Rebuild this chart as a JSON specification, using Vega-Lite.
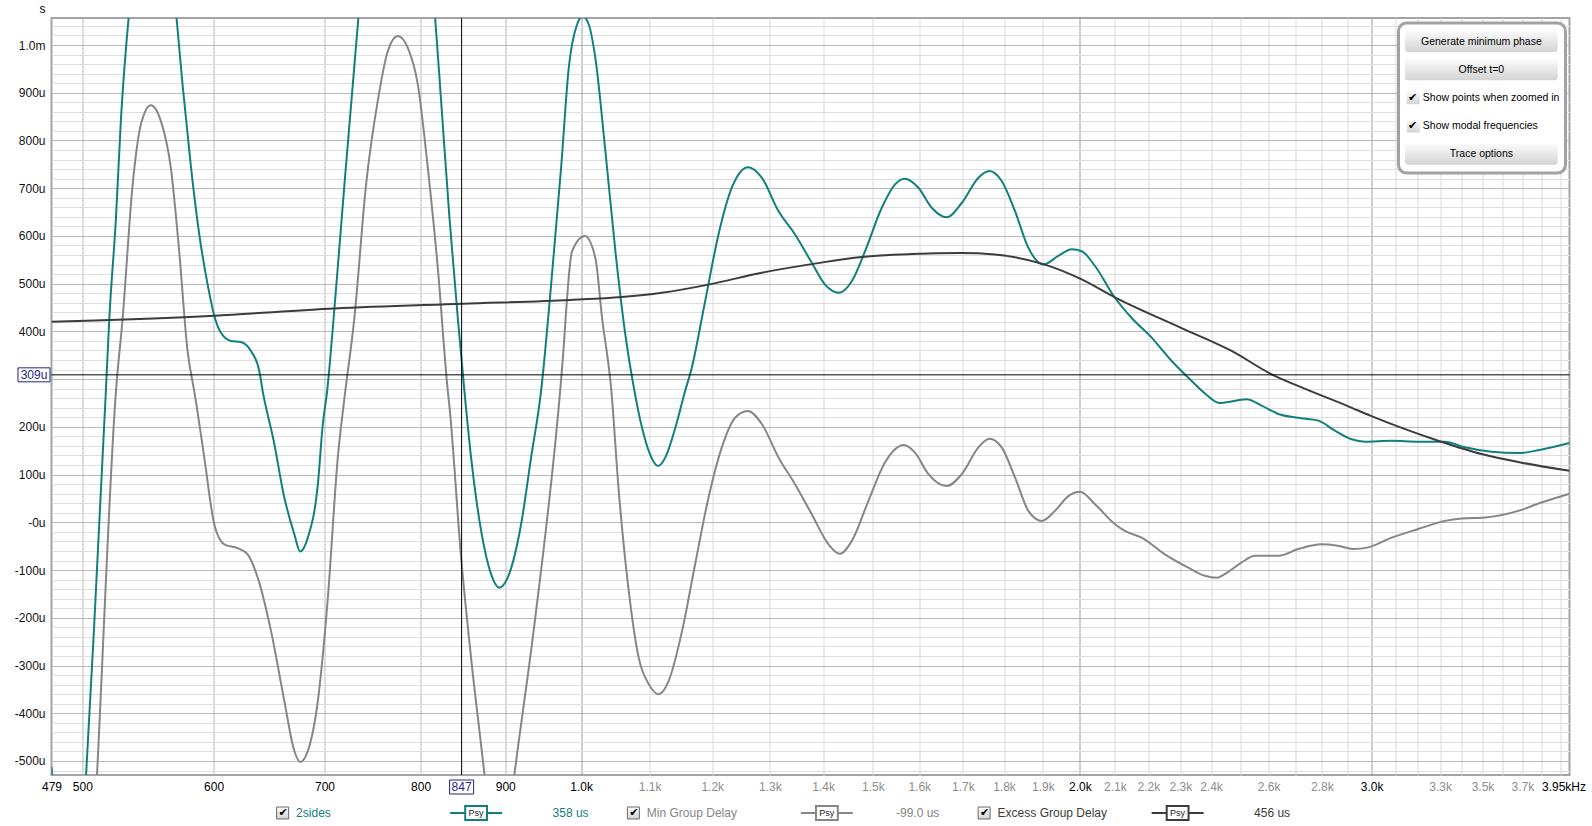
{
  "$schema": "https://vega.github.io/schema/vega-lite/v6.json",
  "background": "white",
  "autosize": {"type": "pad"},
  "padding": {"left": 12.5, "top": 1, "right": 4, "bottom": 8},
  "spacing": 4,
  "config": {
    "font": "Liberation Sans",
    "view": {"stroke": "#a4a4a4", "strokeWidth": 2},
    "axis": {"labelFont": "Liberation Sans", "labelFontSize": 12, "ticks": false, "domain": false, "labelOverlap": false, "labelFlush": false, "labelBound": false, "tickCount": 500},
    "legend": {"strokeWidth": 3},
    "text": {"font": "Liberation Sans"}
  },
  "resolve": {"scale": {"shape": "independent"}, "legend": {"shape": "independent"}},
  "datasets": {
    "traces": [
      {"series":"2sides","f":479,"gd":-512},{"series":"2sides","f":480,"gd":-560},{"series":"2sides","f":484.7,"gd":-780},{"series":"2sides","f":490.8,"gd":-880},{"series":"2sides","f":497,"gd":-780},{"series":"2sides","f":502.6,"gd":-528},{"series":"2sides","f":508.3,"gd":-214},{"series":"2sides","f":516.6,"gd":275},{"series":"2sides","f":519.1,"gd":428},{"series":"2sides","f":523.9,"gd":638},{"series":"2sides","f":527.6,"gd":848},{"series":"2sides","f":533.2,"gd":1057},{"series":"2sides","f":536.2,"gd":1140},{"series":"2sides","f":542.4,"gd":1261},{"series":"2sides","f":549.9,"gd":1302},{"series":"2sides","f":557.6,"gd":1269},{"series":"2sides","f":565.4,"gd":1173},{"series":"2sides","f":569.9,"gd":1057},{"series":"2sides","f":574.7,"gd":917},{"series":"2sides","f":581.5,"gd":743},{"series":"2sides","f":588.2,"gd":603},{"series":"2sides","f":595.1,"gd":498},{"series":"2sides","f":600.6,"gd":433},{"series":"2sides","f":606.2,"gd":397},{"series":"2sides","f":614.7,"gd":380},{"series":"2sides","f":623.3,"gd":378},{"series":"2sides","f":632,"gd":359},{"series":"2sides","f":639.4,"gd":317},{"series":"2sides","f":642.4,"gd":275},{"series":"2sides","f":652.3,"gd":171},{"series":"2sides","f":662,"gd":52},{"series":"2sides","f":671.3,"gd":-25},{"series":"2sides","f":676.7,"gd":-61},{"series":"2sides","f":684,"gd":-32},{"series":"2sides","f":693.6,"gd":80},{"series":"2sides","f":698.4,"gd":206},{"series":"2sides","f":702.6,"gd":275},{"series":"2sides","f":709.8,"gd":449},{"series":"2sides","f":719.7,"gd":708},{"series":"2sides","f":728.1,"gd":917},{"series":"2sides","f":733.8,"gd":1057},{"series":"2sides","f":741.7,"gd":1230},{"series":"2sides","f":753.8,"gd":1400},{"series":"2sides","f":764.7,"gd":1510},{"series":"2sides","f":775.4,"gd":1545},{"series":"2sides","f":786.2,"gd":1510},{"series":"2sides","f":797.3,"gd":1400},{"series":"2sides","f":808.5,"gd":1220},{"series":"2sides","f":816.4,"gd":1057},{"series":"2sides","f":823.2,"gd":883},{"series":"2sides","f":832.8,"gd":638},{"series":"2sides","f":842.5,"gd":428},{"series":"2sides","f":850.3,"gd":275},{"series":"2sides","f":858.2,"gd":136},{"series":"2sides","f":870.3,"gd":-18},{"series":"2sides","f":882.5,"gd":-109},{"series":"2sides","f":892.6,"gd":-137},{"series":"2sides","f":903,"gd":-116},{"series":"2sides","f":920,"gd":-4},{"series":"2sides","f":932.9,"gd":136},{"series":"2sides","f":945.9,"gd":275},{"series":"2sides","f":959.2,"gd":498},{"series":"2sides","f":972.6,"gd":743},{"series":"2sides","f":983,"gd":952},{"series":"2sides","f":994.4,"gd":1043},{"series":"2sides","f":1002.3,"gd":1060},{"series":"2sides","f":1010.7,"gd":1043},{"series":"2sides","f":1020,"gd":973},{"series":"2sides","f":1034.3,"gd":778},{"series":"2sides","f":1048.8,"gd":568},{"series":"2sides","f":1063.4,"gd":393},{"series":"2sides","f":1077,"gd":275},{"series":"2sides","f":1088.4,"gd":198},{"series":"2sides","f":1100.4,"gd":143},{"series":"2sides","f":1112.9,"gd":118},{"series":"2sides","f":1124.2,"gd":136},{"series":"2sides","f":1139.9,"gd":198},{"series":"2sides","f":1155.5,"gd":275},{"series":"2sides","f":1166.3,"gd":324},{"series":"2sides","f":1188.1,"gd":463},{"series":"2sides","f":1210.4,"gd":603},{"series":"2sides","f":1233,"gd":701},{"series":"2sides","f":1261.6,"gd":744},{"series":"2sides","f":1285.5,"gd":722},{"series":"2sides","f":1315.6,"gd":652},{"series":"2sides","f":1346.3,"gd":603},{"series":"2sides","f":1377.9,"gd":544},{"series":"2sides","f":1403.6,"gd":498},{"series":"2sides","f":1431.2,"gd":481},{"series":"2sides","f":1456.7,"gd":505},{"series":"2sides","f":1483.9,"gd":568},{"series":"2sides","f":1518.7,"gd":659},{"series":"2sides","f":1547,"gd":708},{"series":"2sides","f":1567.7,"gd":720},{"series":"2sides","f":1598.1,"gd":701},{"series":"2sides","f":1627.9,"gd":659},{"series":"2sides","f":1662.2,"gd":639},{"series":"2sides","f":1697.3,"gd":669},{"series":"2sides","f":1737.1,"gd":722},{"series":"2sides","f":1763.8,"gd":736},{"series":"2sides","f":1794.2,"gd":715},{"series":"2sides","f":1827.7,"gd":652},{"series":"2sides","f":1862,"gd":575},{"series":"2sides","f":1901.3,"gd":540},{"series":"2sides","f":1940.9,"gd":558},{"series":"2sides","f":1977.6,"gd":572},{"series":"2sides","f":2005.2,"gd":568},{"series":"2sides","f":2042.6,"gd":537},{"series":"2sides","f":2098.4,"gd":472},{"series":"2sides","f":2149.4,"gd":428},{"series":"2sides","f":2210,"gd":387},{"series":"2sides","f":2272.3,"gd":338},{"series":"2sides","f":2325.6,"gd":303},{"series":"2sides","f":2379.9,"gd":270},{"series":"2sides","f":2428,"gd":250},{"series":"2sides","f":2447,"gd":251},{"series":"2sides","f":2521.2,"gd":258},{"series":"2sides","f":2576.7,"gd":244},{"series":"2sides","f":2635.4,"gd":227},{"series":"2sides","f":2709.6,"gd":219},{"series":"2sides","f":2786,"gd":213},{"series":"2sides","f":2851,"gd":192},{"series":"2sides","f":2917.9,"gd":174},{"series":"2sides","f":2972.3,"gd":169},{"series":"2sides","f":3084.7,"gd":171},{"series":"2sides","f":3201.2,"gd":169},{"series":"2sides","f":3321.9,"gd":169},{"series":"2sides","f":3411,"gd":158},{"series":"2sides","f":3544.5,"gd":148},{"series":"2sides","f":3678.5,"gd":145},{"series":"2sides","f":3782.1,"gd":151},{"series":"2sides","f":3950,"gd":166},
      {"series":"Min Group Delay","f":479,"gd":-932},{"series":"Min Group Delay","f":480,"gd":-980},{"series":"Min Group Delay","f":484.7,"gd":-1200},{"series":"Min Group Delay","f":490.8,"gd":-1300},{"series":"Min Group Delay","f":497,"gd":-1200},{"series":"Min Group Delay","f":502.6,"gd":-960},{"series":"Min Group Delay","f":506.7,"gd":-740},{"series":"Min Group Delay","f":510.3,"gd":-528},{"series":"Min Group Delay","f":523.9,"gd":275},{"series":"Min Group Delay","f":528.8,"gd":428},{"series":"Min Group Delay","f":536.2,"gd":708},{"series":"Min Group Delay","f":542.4,"gd":834},{"series":"Min Group Delay","f":549.9,"gd":874},{"series":"Min Group Delay","f":557.6,"gd":841},{"series":"Min Group Delay","f":565.4,"gd":743},{"series":"Min Group Delay","f":572,"gd":568},{"series":"Min Group Delay","f":578.7,"gd":359},{"series":"Min Group Delay","f":584.1,"gd":275},{"series":"Min Group Delay","f":586.1,"gd":243},{"series":"Min Group Delay","f":592.3,"gd":136},{"series":"Min Group Delay","f":600.6,"gd":-4},{"series":"Min Group Delay","f":609,"gd":-46},{"series":"Min Group Delay","f":620.5,"gd":-54},{"series":"Min Group Delay","f":629.1,"gd":-67},{"series":"Min Group Delay","f":638,"gd":-116},{"series":"Min Group Delay","f":649.9,"gd":-228},{"series":"Min Group Delay","f":662,"gd":-374},{"series":"Min Group Delay","f":671.3,"gd":-479},{"series":"Min Group Delay","f":676.9,"gd":-502},{"series":"Min Group Delay","f":684,"gd":-479},{"series":"Min Group Delay","f":693.6,"gd":-374},{"series":"Min Group Delay","f":703.3,"gd":-158},{"series":"Min Group Delay","f":713.1,"gd":136},{"series":"Min Group Delay","f":719.7,"gd":260},{"series":"Min Group Delay","f":729.7,"gd":428},{"series":"Min Group Delay","f":741.7,"gd":708},{"series":"Min Group Delay","f":753.8,"gd":883},{"series":"Min Group Delay","f":764.4,"gd":987},{"series":"Min Group Delay","f":775.1,"gd":1019},{"series":"Min Group Delay","f":786,"gd":994},{"series":"Min Group Delay","f":797,"gd":917},{"series":"Min Group Delay","f":808.1,"gd":743},{"series":"Min Group Delay","f":819.4,"gd":533},{"series":"Min Group Delay","f":830.9,"gd":275},{"series":"Min Group Delay","f":832.8,"gd":243},{"series":"Min Group Delay","f":846.4,"gd":-74},{"series":"Min Group Delay","f":858.2,"gd":-284},{"series":"Min Group Delay","f":874.3,"gd":-528},{"series":"Min Group Delay","f":881.3,"gd":-640},{"series":"Min Group Delay","f":892.4,"gd":-700},{"series":"Min Group Delay","f":902.3,"gd":-650},{"series":"Min Group Delay","f":911.5,"gd":-528},{"series":"Min Group Delay","f":937.2,"gd":-214},{"series":"Min Group Delay","f":971.3,"gd":275},{"series":"Min Group Delay","f":973.6,"gd":317},{"series":"Min Group Delay","f":987.5,"gd":568},{"series":"Min Group Delay","f":1005.1,"gd":600},{"series":"Min Group Delay","f":1020,"gd":554},{"series":"Min Group Delay","f":1029.6,"gd":428},{"series":"Min Group Delay","f":1043,"gd":275},{"series":"Min Group Delay","f":1053.7,"gd":66},{"series":"Min Group Delay","f":1068.5,"gd":-144},{"series":"Min Group Delay","f":1083.4,"gd":-284},{"series":"Min Group Delay","f":1098.6,"gd":-339},{"series":"Min Group Delay","f":1113.7,"gd":-360},{"series":"Min Group Delay","f":1129.5,"gd":-332},{"series":"Min Group Delay","f":1150.6,"gd":-228},{"series":"Min Group Delay","f":1171.7,"gd":-88},{"series":"Min Group Delay","f":1193.7,"gd":52},{"series":"Min Group Delay","f":1216,"gd":157},{"series":"Min Group Delay","f":1238.7,"gd":219},{"series":"Min Group Delay","f":1260.7,"gd":233},{"series":"Min Group Delay","f":1285.5,"gd":206},{"series":"Min Group Delay","f":1315.6,"gd":136},{"series":"Min Group Delay","f":1346.3,"gd":80},{"series":"Min Group Delay","f":1377.9,"gd":17},{"series":"Min Group Delay","f":1410.3,"gd":-46},{"series":"Min Group Delay","f":1432.6,"gd":-66},{"series":"Min Group Delay","f":1456.7,"gd":-39},{"series":"Min Group Delay","f":1490.9,"gd":45},{"series":"Min Group Delay","f":1523.7,"gd":122},{"series":"Min Group Delay","f":1547,"gd":153},{"series":"Min Group Delay","f":1565.2,"gd":162},{"series":"Min Group Delay","f":1590.6,"gd":146},{"series":"Min Group Delay","f":1620.5,"gd":101},{"series":"Min Group Delay","f":1662.2,"gd":76},{"series":"Min Group Delay","f":1697.3,"gd":101},{"series":"Min Group Delay","f":1737.1,"gd":157},{"series":"Min Group Delay","f":1763.8,"gd":175},{"series":"Min Group Delay","f":1794.2,"gd":157},{"series":"Min Group Delay","f":1827.7,"gd":94},{"series":"Min Group Delay","f":1862,"gd":24},{"series":"Min Group Delay","f":1896.8,"gd":3},{"series":"Min Group Delay","f":1932.1,"gd":24},{"series":"Min Group Delay","f":1968.5,"gd":55},{"series":"Min Group Delay","f":2000.5,"gd":64},{"series":"Min Group Delay","f":2042.6,"gd":38},{"series":"Min Group Delay","f":2100.1,"gd":-4},{"series":"Min Group Delay","f":2129.5,"gd":-18},{"series":"Min Group Delay","f":2179.5,"gd":-32},{"series":"Min Group Delay","f":2251.2,"gd":-67},{"series":"Min Group Delay","f":2325.6,"gd":-95},{"series":"Min Group Delay","f":2379.9,"gd":-112},{"series":"Min Group Delay","f":2418.9,"gd":-116},{"series":"Min Group Delay","f":2455.4,"gd":-105},{"series":"Min Group Delay","f":2504.4,"gd":-84},{"series":"Min Group Delay","f":2551.1,"gd":-70},{"series":"Min Group Delay","f":2635.4,"gd":-70},{"series":"Min Group Delay","f":2709.6,"gd":-56},{"series":"Min Group Delay","f":2798.8,"gd":-46},{"series":"Min Group Delay","f":2860.7,"gd":-49},{"series":"Min Group Delay","f":2927.5,"gd":-56},{"series":"Min Group Delay","f":2982.3,"gd":-53},{"series":"Min Group Delay","f":3084.7,"gd":-32},{"series":"Min Group Delay","f":3201.2,"gd":-14},{"series":"Min Group Delay","f":3321.9,"gd":3},{"series":"Min Group Delay","f":3399.8,"gd":8},{"series":"Min Group Delay","f":3511.7,"gd":10},{"series":"Min Group Delay","f":3678.5,"gd":24},{"series":"Min Group Delay","f":3794.5,"gd":41},{"series":"Min Group Delay","f":3950,"gd":60},
      {"series":"Excess Group Delay","f":479,"gd":420},{"series":"Excess Group Delay","f":600.6,"gd":433},{"series":"Excess Group Delay","f":709.5,"gd":448},{"series":"Excess Group Delay","f":847.7,"gd":458},{"series":"Excess Group Delay","f":985.9,"gd":466},{"series":"Excess Group Delay","f":1058,"gd":472},{"series":"Excess Group Delay","f":1118.7,"gd":481},{"series":"Excess Group Delay","f":1193.7,"gd":498},{"series":"Excess Group Delay","f":1285.5,"gd":523},{"series":"Excess Group Delay","f":1383.7,"gd":542},{"series":"Excess Group Delay","f":1477,"gd":556},{"series":"Excess Group Delay","f":1583.3,"gd":562},{"series":"Excess Group Delay","f":1697.3,"gd":564},{"series":"Excess Group Delay","f":1776.9,"gd":561},{"series":"Excess Group Delay","f":1896.8,"gd":542},{"series":"Excess Group Delay","f":2005.2,"gd":509},{"series":"Excess Group Delay","f":2098.4,"gd":472},{"series":"Excess Group Delay","f":2304,"gd":407},{"series":"Excess Group Delay","f":2469.8,"gd":359},{"series":"Excess Group Delay","f":2611,"gd":310},{"series":"Excess Group Delay","f":2733.5,"gd":280},{"series":"Excess Group Delay","f":2904.6,"gd":243},{"series":"Excess Group Delay","f":2997,"gd":223},{"series":"Excess Group Delay","f":3291.5,"gd":171},{"series":"Excess Group Delay","f":3495.5,"gd":143},{"series":"Excess Group Delay","f":3695.4,"gd":125},{"series":"Excess Group Delay","f":3950,"gd":108}
    ],
    "cursor": [{"f": 847, "gd": 309}],
    "readouts": [
      {"series": "2sides", "readout": "358 us"},
      {"series": "Min Group Delay", "readout": "-99.0 us"},
      {"series": "Excess Group Delay", "readout": "456 us"}
    ]
  },
  "vconcat": [
    {
      "width": 1518,
      "height": 757,
      "layer": [
        {
          "data": {"name": "traces"},
          "mark": {"type": "line", "clip": true, "strokeWidth": 2, "interpolate": "monotone"},
          "encoding": {
            "x": {
              "field": "f", "type": "quantitative",
              "scale": {"type": "log", "domain": [479, 3950], "nice": false},
              "axis": {
                "title": null,
                "grid": true,
                "tickCount": 500,
                "values": [479,500,600,700,800,900,1000,1100,1200,1300,1400,1500,1600,1700,1800,1900,2000,2100,2200,2300,2400,2500,2600,2700,2800,2900,3000,3100,3200,3300,3400,3500,3600,3700,3800,3900,3950],
                "labelExpr": "datum.value == 479 ? '479' : datum.value < 1000 ? format(datum.value, 'd') : datum.value == 3950 ? '3.95kHz' : indexof([2500,2700,2900,3100,3200,3400,3600,3800,3900], datum.value) >= 0 ? '' : format(datum.value / 1000, '.1f') + 'k'",
                "labelColor": {"expr": "(datum.value <= 1000 || datum.value == 2000 || datum.value == 3000 || datum.value == 3950) ? '#000000' : '#8c8c8c'"},
                "gridColor": {"expr": "(datum.value == 479 || datum.value == 3950) ? 'rgba(0,0,0,0)' : (datum.value == 1000 || datum.value == 2000 || datum.value == 3000) ? '#9c9c9c' : datum.value < 1000 ? '#b8b8b8' : '#d9d9d9'"},
                "labelOffset": {"condition": {"test": "datum.value == 3950", "value": -6}, "value": 0},
                "labelPadding": 6
              }
            },
            "y": {
              "field": "gd", "type": "quantitative",
              "scale": {"domain": [-529.4, 1056.6], "nice": false, "zero": false},
              "axis": {
                "title": "s",
                "titleAngle": 0,
                "titleX": -9.5,
                "titleY": -10,
                "titleAlign": "center",
                "titleBaseline": "middle",
                "titleFontWeight": "normal",
                "titleFontSize": 12,
                "titleFont": "Liberation Sans",
                "titleColor": "#000000",
                "grid": true,
                "tickCount": 500,
                "values": [-520,-500,-480,-460,-440,-420,-400,-380,-360,-340,-320,-300,-280,-260,-240,-220,-200,-180,-160,-140,-120,-100,-80,-60,-40,-20,0,20,40,60,80,100,120,140,160,180,200,220,240,260,280,300,320,340,360,380,400,420,440,460,480,500,520,540,560,580,600,620,640,660,680,700,720,740,760,780,800,820,840,860,880,900,920,940,960,980,1000,1020,1040],
                "labelExpr": "(datum.value % 100 != 0 || datum.value == 300) ? '' : datum.value == 1000 ? '1.0m' : datum.value == 0 ? '-0u' : datum.value + 'u'",
                "gridColor": {"expr": "datum.value % 100 == 0 ? '#b8b8b8' : '#dedede'"},
                "labelColor": "#111111",
                "labelPadding": 6.5
              }
            },
            "color": {
              "field": "series", "type": "nominal",
              "scale": {"domain": ["2sides", "Min Group Delay", "Excess Group Delay"], "range": ["#10807f", "#868686", "#3c3c3c"]},
              "legend": null
            }
          }
        },
        {
          "data": {"name": "cursor"},
          "mark": {"type": "rule", "color": "#000000", "strokeWidth": 1},
          "encoding": {"x": {"field": "f", "type": "quantitative"}}
        },
        {
          "data": {"name": "cursor"},
          "mark": {"type": "rule", "color": "#000000", "strokeWidth": 1},
          "encoding": {"y": {"field": "gd", "type": "quantitative"}}
        },
        {
          "data": {"name": "cursor"},
          "mark": {"type": "point", "shape": "M-1,-0.583H1V0.583H-1Z", "size": 576, "filled": true, "fill": "#ffffff", "stroke": "#23238a", "strokeWidth": 1, "opacity": 1, "yOffset": 12},
          "encoding": {
            "x": {"field": "f", "type": "quantitative"},
            "y": {"datum": -529.4, "type": "quantitative"}
          }
        },
        {
          "data": {"name": "cursor"},
          "mark": {"type": "text", "fontSize": 12, "color": "#23238a", "align": "center", "baseline": "middle", "yOffset": 12},
          "encoding": {
            "x": {"field": "f", "type": "quantitative"},
            "y": {"datum": -529.4, "type": "quantitative"},
            "text": {"field": "f", "type": "quantitative", "format": "d"}
          }
        },
        {
          "data": {"name": "cursor"},
          "mark": {"type": "point", "shape": "M-1,-0.4375H1V0.4375H-1Z", "size": 1024, "filled": true, "fill": "#ffffff", "stroke": "#23238a", "strokeWidth": 1, "opacity": 1, "xOffset": -17.5},
          "encoding": {
            "x": {"datum": 479, "type": "quantitative"},
            "y": {"field": "gd", "type": "quantitative"}
          }
        },
        {
          "data": {"name": "cursor"},
          "transform": [{"calculate": "datum.gd + 'u'", "as": "gd_label"}],
          "mark": {"type": "text", "fontSize": 12, "color": "#23238a", "align": "center", "baseline": "middle", "xOffset": -17.5},
          "encoding": {
            "x": {"datum": 479, "type": "quantitative"},
            "y": {"field": "gd", "type": "quantitative"},
            "text": {"field": "gd_label", "type": "nominal"}
          }
        },
        {
          "data": {"values": []},
          "mark": {
            "type": "point", "filled": true, "opacity": 1, "stroke": "#6f6f6f", "strokeWidth": 1.2, "strokeOpacity": 1,
            "fill": {"gradient": "linear", "x1": 0, "y1": 0, "x2": 0, "y2": 1, "stops": [{"offset": 0, "color": "#fbfbfb"}, {"offset": 1, "color": "#d3d3d3"}]}
          },
          "encoding": {
            "shape": {
              "field": "option", "type": "nominal",
              "scale": {
                "domain": ["Generate minimum phase", "Offset t=0", "✔\u00a0\u00a0Show points when zoomed in", "✔\u00a0\u00a0Show modal frequencies", "Trace options"],
                "range": [
                  "M-0.964,-0.1265H0.804Q0.84,-0.1265 0.84,-0.0905V0.0905Q0.84,0.1265 0.804,0.1265H-0.964Q-1,0.1265 -1,0.0905V-0.0905Q-1,-0.1265 -0.964,-0.1265Z",
                  "M-0.964,-0.1265H0.804Q0.84,-0.1265 0.84,-0.0905V0.0905Q0.84,0.1265 0.804,0.1265H-0.964Q-1,0.1265 -1,0.0905V-0.0905Q-1,-0.1265 -0.964,-0.1265Z",
                  "M-0.98,-0.078H-0.823V0.078H-0.98Z",
                  "M-0.98,-0.078H-0.823V0.078H-0.98Z",
                  "M-0.964,-0.1265H0.804Q0.84,-0.1265 0.84,-0.0905V0.0905Q0.84,0.1265 0.804,0.1265H-0.964Q-1,0.1265 -1,0.0905V-0.0905Q-1,-0.1265 -0.964,-0.1265Z"
                ]
              },
              "legend": {
                "title": null,
                "orient": "top-right",
                "offset": 4.5,
                "padding": 5.5,
                "fillColor": "#ffffff",
                "strokeColor": "#a2a2a2",
                "cornerRadius": 8,
                "symbolSize": 27556,
                "symbolStrokeWidth": 1.2,
                "symbolStrokeColor": "#6f6f6f",
                "labelFont": "Liberation Sans",
                "labelFontSize": 10.5,
                "labelColor": "#000000",
                "labelLimit": 400,
                "clipHeight": 26,
                "rowPadding": 2.2,
                "labelAlign": {"expr": "indexof(datum.label, '✔') == 0 ? 'left' : 'center'"},
                "labelOffset": {"expr": "indexof(datum.label, '✔') == 0 ? -164 : -90.6"}
              }
            }
          }
        }
      ]
    },
    {
      "width": 1403,
      "height": 20,
      "view": {"stroke": null},
      "data": {"name": "readouts"},
      "encoding": {
        "x": {
          "field": "series", "type": "nominal",
          "scale": {"type": "point", "domain": ["2sides", "Min Group Delay", "Excess Group Delay"], "padding": 1, "align": 0.6053},
          "axis": null
        }
      },
      "layer": [
        {
          "mark": {
            "type": "point", "shape": "square", "size": 144, "filled": true, "opacity": 1, "stroke": "#6a6a6a", "strokeWidth": 1, "xOffset": -193.5,
            "fill": {"gradient": "linear", "x1": 0, "y1": 0, "x2": 0, "y2": 1, "stops": [{"offset": 0, "color": "#fdfdfd"}, {"offset": 1, "color": "#d2d2d2"}]}
          }
        },
        {
          "mark": {"type": "text", "text": "✔", "font": "DejaVu Sans", "fontSize": 11, "color": "#000000", "align": "center", "baseline": "middle", "xOffset": -193}
        },
        {
          "mark": {"type": "text", "fontSize": 12, "align": "left", "baseline": "middle", "xOffset": -180},
          "encoding": {
            "text": {"field": "series", "type": "nominal"},
            "color": {"field": "series", "type": "nominal", "legend": null}
          }
        },
        {
          "mark": {"type": "point", "shape": "M-1,0H-0.42M0.42,0H1M-0.42,-0.27H0.42V0.27H-0.42Z", "size": 2704, "filled": true, "fill": "#ffffff", "strokeWidth": 2, "opacity": 1},
          "encoding": {
            "stroke": {"field": "series", "type": "nominal", "scale": {"domain": ["2sides", "Min Group Delay", "Excess Group Delay"], "range": ["#10807f", "#868686", "#3c3c3c"]}, "legend": null}
          }
        },
        {
          "mark": {"type": "text", "text": "Psy", "fontSize": 9, "color": "#222222", "align": "center", "baseline": "middle"}
        },
        {
          "mark": {"type": "text", "fontSize": 12, "align": "right", "baseline": "middle", "xOffset": 112.5},
          "encoding": {
            "text": {"field": "readout", "type": "nominal"},
            "color": {"field": "series", "type": "nominal", "legend": null}
          }
        }
      ]
    }
  ]
}
